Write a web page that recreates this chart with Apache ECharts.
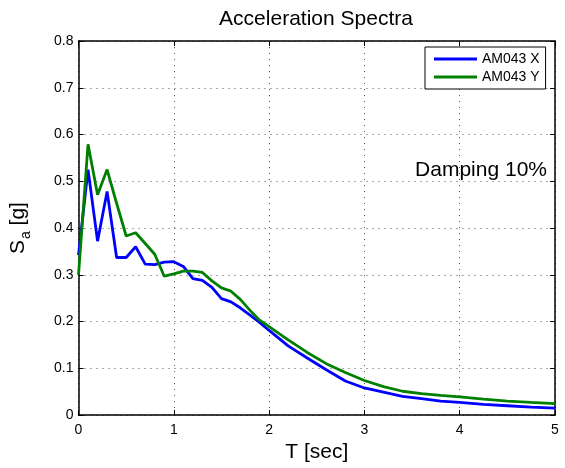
<!DOCTYPE html>
<html>
<head>
<meta charset="utf-8">
<script src="https://cdn.jsdelivr.net/npm/echarts@6/dist/echarts.min.js"></script>
<style>
  html, body { margin: 0; padding: 0; background: #fff; }
  #spectra { width: 565px; height: 468px; }
</style>
</head>
<body>
<div id="spectra"></div>
<script>
// periods T [sec]
var periods = [0, 0.1, 0.2, 0.3, 0.4, 0.5, 0.6, 0.7, 0.8, 0.9, 1.0,
  1.1, 1.2, 1.3, 1.4, 1.5, 1.6, 1.7, 1.8, 1.9, 2.0,
  2.2, 2.4, 2.6, 2.8, 3.0, 3.2, 3.4, 3.6, 3.8, 4.0, 4.25, 4.5, 4.75, 5.0];
// spectral acceleration, component X
var saX = [0.342, 0.525, 0.372, 0.478, 0.337, 0.337, 0.360, 0.323, 0.322, 0.327, 0.328,
  0.318, 0.292, 0.288, 0.273, 0.249, 0.242, 0.229, 0.214, 0.198, 0.181,
  0.148, 0.122, 0.097, 0.073, 0.058, 0.049, 0.040, 0.035, 0.030, 0.027, 0.023, 0.020, 0.017, 0.015];
// spectral acceleration, component Y
var saY = [0.300, 0.579, 0.471, 0.525, 0.453, 0.383, 0.390, 0.367, 0.344, 0.297, 0.302,
  0.308, 0.308, 0.305, 0.287, 0.272, 0.265, 0.247, 0.224, 0.203, 0.189,
  0.161, 0.134, 0.110, 0.091, 0.074, 0.061, 0.051, 0.046, 0.042, 0.039, 0.034, 0.030, 0.027, 0.0245];
var seriesNames = ['AM043 X', 'AM043 Y'];

function pairs(ys) {
  return periods.map(function (t, i) { return [t, ys[i]]; });
}

var chart = echarts.init(document.getElementById('spectra'));
var font = 'Liberation Sans, Arial, sans-serif';
var dotted = { color: '#555', width: 1, type: [1, 5] };

var option = {
  backgroundColor: '#fff',
  animation: false,
  title: {
    text: 'Acceleration Spectra',
    left: 316,
    textAlign: 'center',
    top: 9,
    padding: 0,
    textStyle: { fontFamily: font, fontSize: 21, fontWeight: 'normal', color: '#000' }
  },
  legend: {
    data: seriesNames,
    orient: 'vertical',
    left: 425,
    top: 47,
    padding: [5, 6, 5, 9],
    icon: 'rect',
    itemWidth: 43,
    itemHeight: 3,
    itemGap: 4,
    backgroundColor: '#fff',
    borderColor: '#000',
    borderWidth: 1,
    borderRadius: 0,
    textStyle: { fontFamily: font, fontSize: 14, color: '#000' }
  },
  graphic: [{
    type: 'text',
    right: 18,
    top: 160,
    style: { text: 'Damping 10%', font: '21px ' + font, fill: '#000' }
  }],
  grid: { left: 77, right: 10, top: 41, bottom: 50, show: false },
  xAxis: [{
    type: 'value', min: 0, max: 5, interval: 1,
    name: 'T [sec]', nameLocation: 'middle', nameGap: 22,
    nameTextStyle: { fontFamily: font, fontSize: 21, color: '#000' },
    axisLine: { show: true, lineStyle: { color: '#000', width: 1.5 } },
    axisTick: { show: true, inside: true, length: 5, lineStyle: { color: '#000' } },
    axisLabel: { fontFamily: font, fontSize: 14, color: '#000', margin: 8 },
    splitLine: { show: true, lineStyle: dotted }
  }, {
    type: 'value', min: 0, max: 5, interval: 1, position: 'top',
    axisLine: { show: true, onZero: false, lineStyle: { color: '#000', width: 1.5 } },
    axisTick: { show: true, inside: true, length: 5, lineStyle: { color: '#000' } },
    axisLabel: { show: false },
    splitLine: { show: false }
  }],
  yAxis: [{
    type: 'value', min: 0, max: 0.8, interval: 0.1,
    name: '{s|S}{sub|a}{s| [g]}', nameLocation: 'middle', nameGap: 45, nameRotate: 90,
    nameTextStyle: {
      rich: {
        s: { fontFamily: font, fontSize: 21, color: '#000' },
        sub: { fontFamily: font, fontSize: 14, color: '#000', padding: [16, 0, 0, 1] }
      }
    },
    axisLine: { show: true, lineStyle: { color: '#000', width: 1.5 } },
    axisTick: { show: true, inside: true, length: 5, lineStyle: { color: '#000' } },
    axisLabel: { fontFamily: font, fontSize: 14, color: '#000', margin: 5 },
    splitLine: { show: true, lineStyle: dotted }
  }, {
    type: 'value', min: 0, max: 0.8, interval: 0.1, position: 'right',
    axisLine: { show: true, onZero: false, lineStyle: { color: '#000', width: 1.5 } },
    axisTick: { show: true, inside: true, length: 5, lineStyle: { color: '#000' } },
    axisLabel: { show: false },
    splitLine: { show: false }
  }],
  series: [{
    name: seriesNames[0],
    type: 'line',
    data: pairs(saX),
    symbol: 'none',
    color: '#0000ff',
    lineStyle: { width: 2.8, color: '#0000ff' }
  }, {
    name: seriesNames[1],
    type: 'line',
    data: pairs(saY),
    symbol: 'none',
    color: '#008000',
    lineStyle: { width: 2.8, color: '#008000' }
  }]
};
chart.setOption(option);
</script>
</body>
</html>
